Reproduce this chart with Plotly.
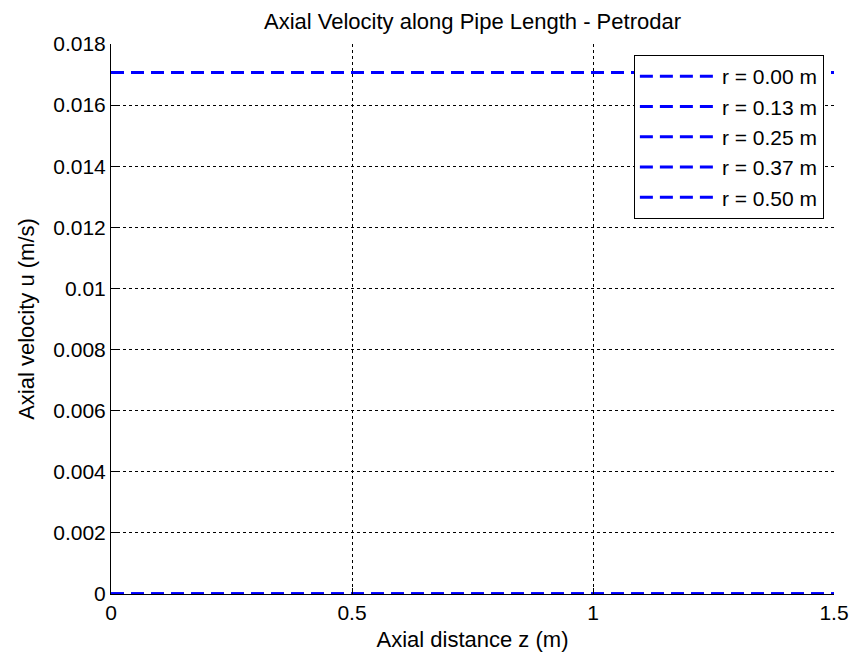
import plotly.graph_objects as go

z_vals = [0.0, 1.5]
radii_labels = ["r = 0.00 m", "r = 0.13 m", "r = 0.25 m", "r = 0.37 m", "r = 0.50 m"]
u_series = [
    [0.01707, 0.01707],
    [0.0, 0.0],
    [0.0, 0.0],
    [0.0, 0.0],
    [0.0, 0.0],
]
x_ticks = [0, 0.5, 1, 1.5]
x_ticklabels = ["0", "0.5", "1", "1.5"]
y_ticks = [0, 0.002, 0.004, 0.006, 0.008, 0.01, 0.012, 0.014, 0.016, 0.018]
y_ticklabels = ["0", "0.002", "0.004", "0.006", "0.008", "0.01", "0.012", "0.014", "0.016", "0.018"]

FONT = "Liberation Sans, Arial, sans-serif"
TICK_SIZE = 21
LABEL_SIZE = 22

fig = go.Figure()
for name, u in zip(radii_labels, u_series):
    fig.add_trace(go.Scatter(
        x=z_vals, y=u, mode="lines", name=name,
        line=dict(color="rgb(0,0,255)", width=3, dash="13px,7px"),
    ))

axis_common = dict(
    showgrid=True, gridcolor="black", griddash="dot", gridwidth=1,
    showline=True, linecolor="black", linewidth=1, mirror=False,
    ticks="inside", ticklen=6, tickcolor="black", tickwidth=1,
    zeroline=False, automargin=False,
    tickfont=dict(family=FONT, size=TICK_SIZE, color="black"),
)

fig.update_layout(
    width=858, height=654,
    paper_bgcolor="white", plot_bgcolor="white",
    margin=dict(l=111, r=24, t=44, b=60, autoexpand=False),
    font=dict(family=FONT, size=LABEL_SIZE, color="black"),
    title=dict(text="Axial Velocity along Pipe Length - Petrodar", x=0.5507, xanchor="center",
               y=0.967, yanchor="middle", font=dict(family=FONT, size=LABEL_SIZE, color="black")),
    xaxis=dict(range=[0, 1.5], tickvals=x_ticks, ticktext=x_ticklabels,
               title=dict(text="Axial distance z (m)", standoff=8,
                          font=dict(family=FONT, size=LABEL_SIZE, color="black")),
               **axis_common),
    yaxis=dict(range=[0, 0.018], tickvals=y_ticks, ticktext=y_ticklabels,
               title=dict(text="Axial velocity u (m/s)", standoff=12,
                          font=dict(family=FONT, size=LABEL_SIZE, color="black")),
               **axis_common),
    legend=dict(x=0.986, y=0.98, xanchor="right", yanchor="top",
                bgcolor="white", bordercolor="black", borderwidth=1,
                font=dict(family=FONT, size=21, color="black"),
                tracegroupgap=0, itemwidth=77),
    showlegend=True,
)

fig.write_html("out.html")
